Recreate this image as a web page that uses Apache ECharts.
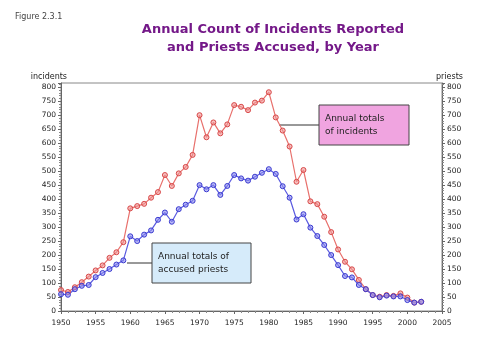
<!DOCTYPE html>
<html><head><meta charset="utf-8">
<script src="https://cdn.jsdelivr.net/npm/echarts@6/dist/echarts.min.js"></script>
<style>html,body{margin:0;padding:0;background:#fff}#c{width:500px;height:355px}</style>
</head><body><div id="c"></div>
<script>
var years = [];
for (var y = 1950; y <= 2002; y++) years.push(y);
var incidents = [75,68,85,103,123,145,163,190,210,246,367,375,383,405,425,486,447,492,515,558,700,621,674,635,667,736,730,718,745,752,782,692,645,588,462,504,392,382,337,282,220,176,149,111,78,57,51,57,54,63,48,30,33];
var priests = [60,58,78,90,93,121,136,150,166,181,267,250,273,288,326,352,319,364,380,394,450,435,450,415,447,486,474,466,480,494,507,490,446,405,327,346,298,268,236,200,164,125,120,93,78,57,49,55,52,52,39,30,33];
var yTicks = [0,50,100,150,200,250,300,350,400,450,500,550,600,650,700,750,800];
var title = 'Annual Count of Incidents Reported\nand Priests Accused, by Year';
var figLabel = 'Figure 2.3.1';
var noteIncidents = 'Annual totals\nof incidents';
var notePriests = 'Annual totals of\naccused priests';

function pairs(v){ return v.map(function(d,i){ return [years[i], d]; }); }
var chart = echarts.init(document.getElementById('c'), null, {renderer:'canvas'});
var F = 'DejaVu Sans';
var yAxisBase = function(pos, name){
  return {
    type:'value', position:pos, min:0, max:815, interval:50,
    name:name, nameLocation:'end', nameGap:2,
    nameTextStyle:{fontSize:8, color:'#222', fontFamily:F, align: pos==='left'?'right':'left', padding:[0,pos==='left'?-6:0,0,pos==='left'?0:-6]},
    axisLine:{show:true, lineStyle:{color:'#666', width:1}},
    axisTick:{show:true, length:3, lineStyle:{color:'#666'}},
    minorTick:{show:true, splitNumber:5, length:2, lineStyle:{color:'#888'}},
    axisLabel:{fontSize:7.5, color:'#222', fontFamily:F, margin:5, showMaxLabel:false,
      formatter:function(v){ return yTicks.indexOf(v)>=0 ? String(v) : ''; }},
    splitLine:{show:false}
  };
};
chart.setOption({
  animation:false,
  backgroundColor:'#fff',
  title:[
    {text:figLabel, left:10, top:8, textStyle:{fontSize:8, fontWeight:'normal', color:'#444', fontFamily:F}},
    {text:title, left:268, textAlign:'center', top:16, textStyle:{fontSize:13, fontWeight:'bold', color:'#741888', fontFamily:F, lineHeight:18}}
  ],
  grid:{left:61, right:58, top:83, bottom:44, show:true, borderColor:'#888', borderWidth:1},
  xAxis:{type:'value', min:1950, max:2005, interval:5,
    axisLine:{onZero:false, lineStyle:{color:'#666'}},
    axisTick:{show:true, length:3, lineStyle:{color:'#666'}},
    minorTick:{show:true, splitNumber:5, length:2, lineStyle:{color:'#888'}},
    axisLabel:{fontSize:7.5, color:'#222', fontFamily:F, margin:8, formatter:function(v){ return String(v); }},
    splitLine:{show:false}},
  yAxis:[yAxisBase('left','incidents'), yAxisBase('right','priests')],
  series:[
    {type:'line', name:'Incidents', data:pairs(incidents), yAxisIndex:0,
     symbol:'circle', symbolSize:5, showAllSymbol:true,
     lineStyle:{color:'#e8706c', width:1.2},
     itemStyle:{color:'rgba(240,150,150,0.6)', borderColor:'#d84848', borderWidth:1}},
    {type:'line', name:'Priests', data:pairs(priests), yAxisIndex:0,
     symbol:'circle', symbolSize:5, showAllSymbol:true,
     lineStyle:{color:'#5a5ae0', width:1.2},
     itemStyle:{color:'rgba(140,140,240,0.6)', borderColor:'#3a3ad0', borderWidth:1}}
  ],
  graphic:[
    {type:'line', shape:{x1:279, y1:125, x2:319, y2:125}, style:{stroke:'#333', lineWidth:1}},
    {type:'rect', shape:{x:319, y:105, width:90, height:40}, style:{fill:'#f0a4e0', stroke:'#444', lineWidth:1}},
    {type:'text', left:325, top:112, style:{text:noteIncidents, fontSize:9, fill:'#222', fontFamily:F, lineHeight:13}},
    {type:'line', shape:{x1:127, y1:263, x2:152, y2:263}, style:{stroke:'#333', lineWidth:1}},
    {type:'rect', shape:{x:152, y:243, width:99, height:40}, style:{fill:'#d6ebfa', stroke:'#444', lineWidth:1}},
    {type:'text', left:158, top:250, style:{text:notePriests, fontSize:9, fill:'#222', fontFamily:F, lineHeight:13}}
  ]
});
</script></body></html>
